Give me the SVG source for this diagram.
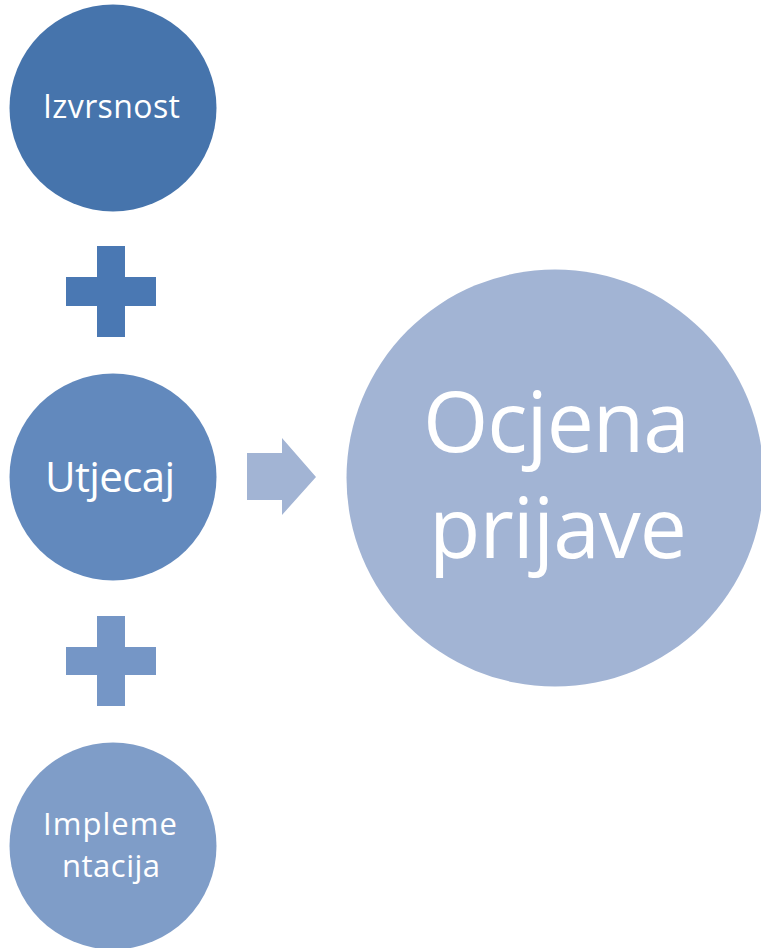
<svg xmlns="http://www.w3.org/2000/svg" width="761" height="948" viewBox="0 0 761 948">
<style>
text{font-family:"Open Sans","Noto Sans","Liberation Sans",sans-serif;fill:#ffffff}
</style>
<rect width="761" height="948" fill="#ffffff"/>
<g id="connectors">
<path id="plus1" d="M97,246H125V277H156V306H125V337H97V306H66V277H97Z" fill="#4A78B3"/>
<path id="plus2" d="M97,616H125V647H156V675H125V706H97V675H66V647H97Z" fill="#7596C6"/>
<path id="arrow" d="M247,453H282V438L316,477L282,515V500H247Z" fill="#A2B4D4"/>
</g>
<g id="node-izvrsnost">
<circle cx="113" cy="108" r="103.5" fill="#4674AC"/>
<text x="43" y="118" font-size="32" textLength="137">Izvrsnost</text>
</g>
<g id="node-utjecaj">
<circle cx="113" cy="477" r="103.5" fill="#6289BD"/>
<text x="45" y="492" font-size="42" textLength="130">Utjecaj</text>
</g>
<g id="node-implementacija">
<circle cx="113" cy="846" r="103.5" fill="#7F9DC8"/>
<text x="43" y="835" font-size="31" textLength="134">Impleme</text>
<text x="62" y="877" font-size="31" textLength="98">ntacija</text>
</g>
<g id="node-ocjena">
<circle cx="555" cy="478" r="208.5" fill="#A2B4D4"/>
<text x="423" y="452" font-size="84" textLength="267">Ocjena</text>
<text x="429" y="558" font-size="84" textLength="258">prijave</text>
</g>
</svg>
